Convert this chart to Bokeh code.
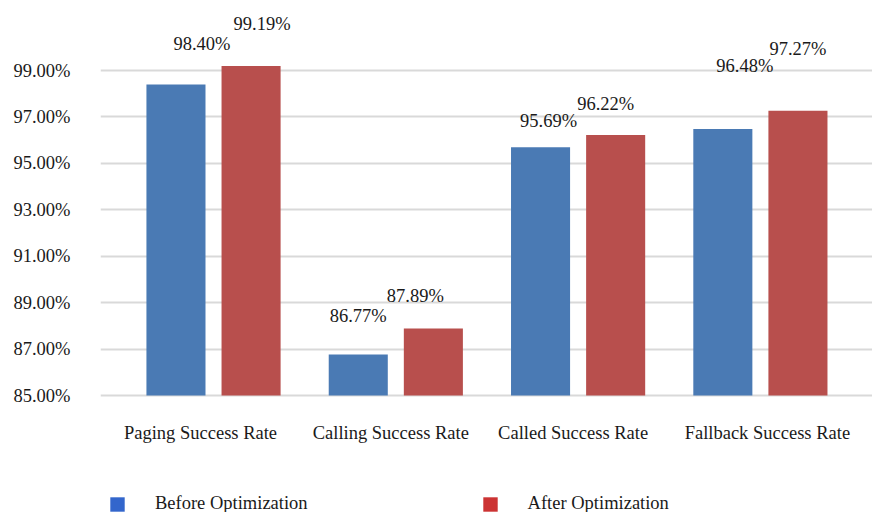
from bokeh.plotting import figure
from bokeh.models import (ColumnDataSource, Range1d, FixedTicker, PrintfTickFormatter,
                          Legend, LegendItem, LabelSet)
from bokeh.core.properties import value
from bokeh.embed import file_html
from bokeh.resources import INLINE

# ---- data ----
categories = ["Paging Success Rate", "Calling Success Rate",
              "Called Success Rate", "Fallback Success Rate"]
before = [98.40, 86.77, 95.69, 96.48]
after = [99.19, 87.89, 96.22, 97.27]
y_ticks = [85, 87, 89, 91, 93, 95, 97, 99]
series_names = ["Before Optimization", "After Optimization"]

# ---- styles / layout ----
FONT = "Liberation Serif"
FS = "18.5px"
TXT = "#1a1a1a"
BAR_BLUE = "#4A7AB4"
BAR_RED = "#B84F4D"
LEG_BLUE = "#3366CC"
LEG_RED = "#CC3333"
DODGE = 0.206
BAR_W = 0.324
BASE = 85
# manual label nudges (pixels, positive y = upwards), as in the original
before_dx = [26, 0, 8, 22]
before_dy = [40, 38, 26, 63]
after_dx = [11, -18, -10, 0]
after_dy = [42, 32, 31, 62]
cat_dx = [-13, -5, -5, 7]

idx = list(range(len(categories)))
src_b = ColumnDataSource(dict(
    x=[i - DODGE for i in idx], top=before,
    label=[f"{v:.2f}%" for v in before], dx=before_dx, dy=before_dy))
src_a = ColumnDataSource(dict(
    x=[i + DODGE for i in idx], top=after,
    label=[f"{v:.2f}%" for v in after], dx=after_dx, dy=after_dy))
src_c = ColumnDataSource(dict(x=idx, y=[BASE] * len(idx),
                              label=categories, dx=cat_dx))

p = figure(width=872, height=512, output_backend="svg", toolbar_location=None,
           x_range=Range1d(-0.62, 3.615), y_range=Range1d(79.96, 102.016),
           min_border_left=100, min_border_right=0, min_border_top=0,
           min_border_bottom=0)
p.outline_line_color = None
p.background_fill_color = "white"
p.border_fill_color = "white"

p.vbar(x="x", top="top", bottom=BASE, width=BAR_W, source=src_b,
       fill_color=BAR_BLUE, line_color=None)
p.vbar(x="x", top="top", bottom=BASE, width=BAR_W, source=src_a,
       fill_color=BAR_RED, line_color=None)

for s in (src_b, src_a):
    p.add_layout(LabelSet(x="x", y="top", text="label", source=s,
                          x_offset="dx", y_offset="dy",
                          text_align="center", text_baseline="middle",
                          text_font=value(FONT), text_font_size=value(FS),
                          text_color=TXT))

# category labels (placed like the original's)
p.add_layout(LabelSet(x="x", y="y", text="label", source=src_c,
                      x_offset="dx", y_offset=-37,
                      text_align="center", text_baseline="middle",
                      text_font=value(FONT), text_font_size=value(FS),
                      text_color=TXT))

# axes
p.yaxis.ticker = FixedTicker(ticks=y_ticks)
p.yaxis.formatter = PrintfTickFormatter(format="%.2f%%")
p.yaxis.axis_line_color = None
p.yaxis.major_tick_line_color = None
p.yaxis.minor_tick_line_color = None
p.yaxis.major_tick_out = 0
p.yaxis.major_label_standoff = 30
p.yaxis.major_label_text_font = FONT
p.yaxis.major_label_text_font_size = FS
p.yaxis.major_label_text_color = TXT

p.xaxis.visible = False

p.xgrid.grid_line_color = None
p.ygrid.ticker = FixedTicker(ticks=y_ticks)
p.ygrid.grid_line_color = "#D9D9D9"
p.ygrid.grid_line_width = 2

# legend (zero-width swatch renderers carrying the legend colours)
lb = p.vbar(x=[idx[0]], top=[BASE], bottom=BASE, width=0,
            fill_color=LEG_BLUE, line_color=None)
lr = p.vbar(x=[idx[0]], top=[BASE], bottom=BASE, width=0,
            fill_color=LEG_RED, line_color=None)
legend = Legend(items=[LegendItem(label=series_names[0], renderers=[lb]),
                       LegendItem(label=series_names[1], renderers=[lr])],
                orientation="horizontal", location=(8, -2),
                glyph_width=18, glyph_height=18, label_standoff=29, spacing=173,
                padding=0, margin=0, border_line_color=None,
                background_fill_alpha=0,
                label_text_font=FONT, label_text_font_size=FS,
                label_text_color=TXT)
p.add_layout(legend, "center")

open("out.html", "w").write(file_html(p, INLINE))
